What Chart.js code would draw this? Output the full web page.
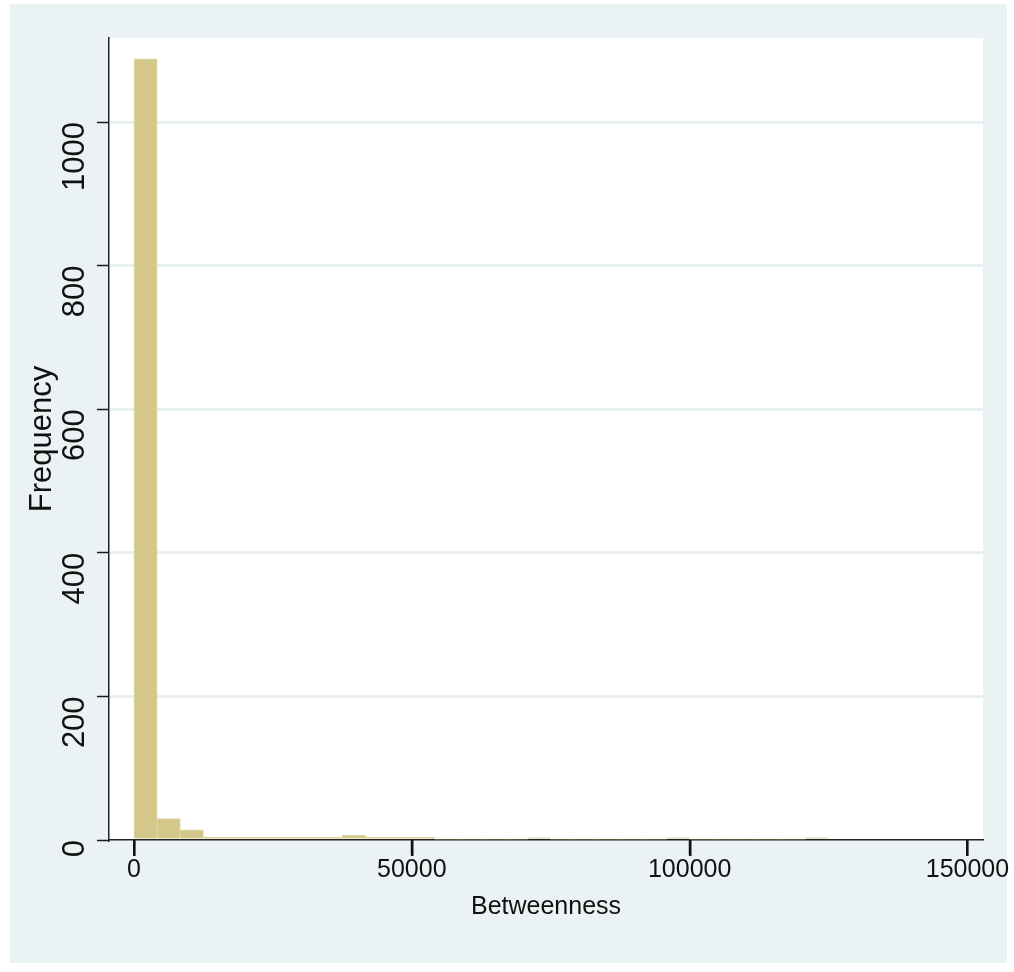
<!DOCTYPE html>
<html>
<head>
<meta charset="utf-8">
<script src="https://cdn.jsdelivr.net/npm/chart.js@4.4.1/dist/chart.umd.min.js"></script>
<style>
  html, body { margin: 0; padding: 0; background: #ffffff; }
  #wrap { width: 1014px; height: 972px; }
</style>
</head>
<body>
<div id="wrap"><canvas id="histChart" width="1014" height="972"></canvas></div>
<script>
// bin midpoints of the Betweenness histogram (30 bins)
const binCenters = [2083, 6250, 10417, 14583, 18750, 22917, 27083, 31250, 35417, 39583,
    43750, 47917, 52083, 56250, 60417, 64583, 68750, 72917, 77083, 81250,
    85417, 89583, 93750, 97917, 102083, 106250, 110417, 114583, 118750, 122917];
const frequencies = [1088, 30, 14, 4, 4, 4, 4, 4, 4, 7,
    4, 4, 4, 0, 0, 0, 0, 3, 0, 0,
    0, 0, 0, 3, 0, 0, 0, 0, 0, 3];
const xTicks = [0, 50000, 100000, 150000];
const yTicks = [0, 200, 400, 600, 800, 1000];

// narrow font for horizontal texts if it is installed
function hasFont(name) {
    const c = document.createElement('canvas').getContext('2d');
    c.font = '30px monospace';
    const a = c.measureText('Betweenness 50000').width;
    c.font = '30px "' + name + '", monospace';
    return c.measureText('Betweenness 50000').width !== a;
}
const narrow = hasFont('Liberation Sans Narrow');
const hFont = narrow ? { family: '"Liberation Sans Narrow"', size: 30 }
                     : { family: '"Liberation Sans", Arial', size: 25 };
const vFont = { family: '"Liberation Sans", Arial', size: 31 };

const stataBg = {
    id: 'stataBg',
    beforeDraw(chart) {
        const ctx = chart.ctx;
        const a = chart.chartArea;
        ctx.save();
        ctx.fillStyle = '#ffffff';
        ctx.fillRect(0, 0, chart.width, chart.height);
        ctx.fillStyle = '#eaf2f3';
        ctx.fillRect(10, 4, 997, 959);
        ctx.fillStyle = '#ffffff';
        ctx.fillRect(a.left, a.top, a.right - a.left, a.bottom - a.top);
        ctx.restore();
    }
};

// x tick marks below the axis line
const xTickMarks = {
    id: 'xTickMarks',
    afterDraw(chart) {
        const ctx = chart.ctx;
        const sx = chart.scales.x;
        const y0 = chart.chartArea.bottom;
        ctx.save();
        ctx.fillStyle = '#111111';
        xTicks.forEach(v => {
            const px = Math.round(sx.getPixelForValue(v));
            ctx.fillRect(px - 1, y0, 2.5, 16);
        });
        ctx.restore();
    }
};

const data = binCenters.map((x, i) => ({ x: x, y: frequencies[i] }));

new Chart(document.getElementById('histChart'), {
    type: 'bar',
    data: {
        datasets: [{
            label: 'Frequency',
            data: data,
            backgroundColor: '#d3c88a',
            borderColor: '#ddd6a6',
            borderWidth: ctx => (ctx.raw && ctx.raw.y > 0 ? 1 : 0),
            barPercentage: 1,
            categoryPercentage: 1
        }]
    },
    options: {
        responsive: false,
        animation: false,
        layout: { padding: { left: 0, right: 31, top: 38, bottom: 0 } },
        plugins: {
            legend: { display: false },
            tooltip: { enabled: false }
        },
        scales: {
            x: {
                type: 'linear',
                offset: false,
                min: -4500,
                max: 152800,
                afterFit: s => { s.height = 132; s.paddingLeft = 0; s.paddingRight = 0; },
                afterBuildTicks: s => { s.ticks = xTicks.map(v => ({ value: v })); },
                grid: { offset: false, drawOnChartArea: false, tickLength: 15, tickColor: '#1a1a1a', tickWidth: 1.5 },
                border: { color: '#222', width: 1.5 },
                ticks: { color: '#111', font: hFont, padding: 0, maxRotation: 0, autoSkip: false,
                         callback: v => String(v) },
                title: { display: true, text: 'Betweenness', color: '#111', font: hFont, padding: { top: 0, bottom: 50 } }
            },
            y: {
                min: 0,
                max: 1117,
                afterFit: s => { s.width = 109; s.paddingTop = 0; s.paddingBottom = 0; },
                afterBuildTicks: s => { s.ticks = yTicks.map(v => ({ value: v })); },
                grid: {
                    color: c => (c.tick && c.tick.value === 0 ? 'rgba(0,0,0,0)' : '#e9f0f2'),
                    lineWidth: 3,
                    tickLength: 12,
                    tickColor: '#1a1a1a',
                    tickWidth: 1.5
                },
                border: { color: '#222', width: 1.5 },
                ticks: { color: '#111', font: vFont, padding: 22, minRotation: 90, maxRotation: 90, autoSkip: false,
                         callback: v => String(v) },
                title: { display: true, text: 'Frequency', color: '#111', font: vFont, padding: { top: 24, bottom: 0 } }
            }
        }
    },
    plugins: [stataBg, xTickMarks]
});
</script>
</body>
</html>
